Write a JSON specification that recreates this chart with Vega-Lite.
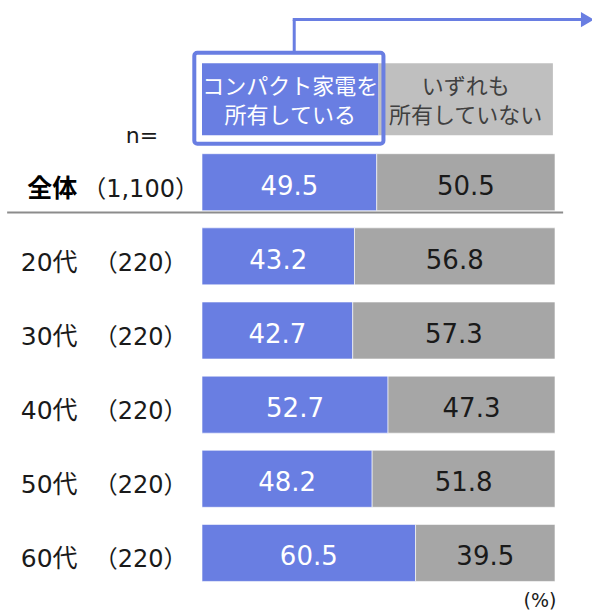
{
  "$schema": "https://vega.github.io/schema/vega-lite/v6.json",
  "width": 353,
  "height": 519,
  "autosize": {"type": "none"},
  "padding": {"left": 202, "top": 71, "right": 37, "bottom": 23},
  "background": "white",
  "config": {"view": {"stroke": null}, "font": "DejaVu Sans, Noto Sans CJK JP", "text": {"font": "DejaVu Sans, Noto Sans CJK JP"}},
  "datasets": {
    "main": [
      {"group": "全体", "n": "（1,100）", "type": "所有している", "value": 49.5},
      {"group": "全体", "n": "（1,100）", "type": "いずれも所有していない", "value": 50.5},
      {"group": "20代", "n": "（220）", "type": "所有している", "value": 43.2},
      {"group": "20代", "n": "（220）", "type": "いずれも所有していない", "value": 56.8},
      {"group": "30代", "n": "（220）", "type": "所有している", "value": 42.7},
      {"group": "30代", "n": "（220）", "type": "いずれも所有していない", "value": 57.3},
      {"group": "40代", "n": "（220）", "type": "所有している", "value": 52.7},
      {"group": "40代", "n": "（220）", "type": "いずれも所有していない", "value": 47.3},
      {"group": "50代", "n": "（220）", "type": "所有している", "value": 48.2},
      {"group": "50代", "n": "（220）", "type": "いずれも所有していない", "value": 51.8},
      {"group": "60代", "n": "（220）", "type": "所有している", "value": 60.5},
      {"group": "60代", "n": "（220）", "type": "いずれも所有していない", "value": 39.5}
    ],
    "header": [
      {"type": "所有している", "label": ["コンパクト家電を", "所有している"]},
      {"type": "いずれも所有していない", "label": ["いずれも", "所有していない"]}
    ],
    "one": [{"note": "annotation"}]
  },
  "layer": [
    {
      "data": {"name": "main"},
      "transform": [
        {"stack": "value", "groupby": ["group"], "sort": [{"field": "type", "order": "descending"}], "as": ["v0", "v1"]}
      ],
      "mark": {"type": "bar", "stroke": "white", "strokeWidth": 0.6},
      "encoding": {
        "y": {"field": "group", "type": "nominal", "axis": null, "scale": {"domain": ["header", "全体", "20代", "30代", "40代", "50代", "60代"], "paddingInner": 0.231, "paddingOuter": 0.1155}},
        "x": {"field": "v0", "type": "quantitative", "axis": null, "scale": {"domain": [0, 100], "nice": false, "zero": false}},
        "x2": {"field": "v1"},
        "color": {"field": "type", "type": "nominal", "legend": null, "scale": {"domain": ["所有している", "いずれも所有していない"], "range": ["#697EE2", "#A6A6A6"]}}
      }
    },
    {
      "data": {"name": "main"},
      "transform": [
        {"stack": "value", "groupby": ["group"], "sort": [{"field": "type", "order": "descending"}], "as": ["v0", "v1"]},
        {"calculate": "(datum.v0 + datum.v1) / 2", "as": "mid"},
        {"filter": "datum.type === '所有している'"}
      ],
      "mark": {"type": "text", "fontSize": 26, "baseline": "alphabetic", "align": "center", "color": "white", "yOffset": 12.3},
      "encoding": {
        "y": {"field": "group", "type": "nominal"},
        "x": {"field": "mid", "type": "quantitative"},
        "text": {"field": "value", "type": "quantitative", "format": ".1f"}
      }
    },
    {
      "data": {"name": "main"},
      "transform": [
        {"stack": "value", "groupby": ["group"], "sort": [{"field": "type", "order": "descending"}], "as": ["v0", "v1"]},
        {"calculate": "(datum.v0 + datum.v1) / 2", "as": "mid"},
        {"filter": "datum.type !== '所有している'"}
      ],
      "mark": {"type": "text", "fontSize": 26, "baseline": "alphabetic", "align": "center", "color": "#1A1A1A", "yOffset": 12.3},
      "encoding": {
        "y": {"field": "group", "type": "nominal"},
        "x": {"field": "mid", "type": "quantitative"},
        "text": {"field": "value", "type": "quantitative", "format": ".1f"}
      }
    },
    {
      "data": {"name": "main"},
      "transform": [{"filter": "datum.type === '所有している' && datum.group !== '全体'"}],
      "mark": {"type": "text", "fontSize": 25, "baseline": "alphabetic", "align": "center", "color": "#1A1A1A", "yOffset": 14.5},
      "encoding": {
        "y": {"field": "group", "type": "nominal"},
        "x": {"datum": -43.3, "type": "quantitative"},
        "text": {"field": "group"}
      }
    },
    {
      "data": {"name": "main"},
      "transform": [{"filter": "datum.type === '所有している' && datum.group === '全体'"}],
      "mark": {"type": "text", "fontSize": 25, "fontWeight": "bold", "baseline": "alphabetic", "align": "center", "color": "#000000", "yOffset": 14.5},
      "encoding": {
        "y": {"field": "group", "type": "nominal"},
        "x": {"datum": -42.4, "type": "quantitative"},
        "text": {"field": "group"}
      }
    },
    {
      "data": {"name": "main"},
      "transform": [{"filter": "datum.type === '所有している'"}],
      "mark": {"type": "text", "fontSize": 24, "baseline": "alphabetic", "align": "center", "color": "#1A1A1A", "yOffset": 14.5},
      "encoding": {
        "y": {"field": "group", "type": "nominal"},
        "x": {"datum": -17.4, "type": "quantitative"},
        "text": {"field": "n"}
      }
    },
    {
      "data": {"name": "one"},
      "mark": {"type": "rule", "color": "#8C8C8C", "strokeWidth": 2, "yOffset": 30.3},
      "encoding": {
        "y": {"datum": "全体", "type": "nominal"},
        "x": {"datum": -55.2, "type": "quantitative"},
        "x2": {"datum": 102.3}
      }
    },
    {
      "data": {"name": "one"},
      "mark": {"type": "bar", "color": "#697EE2", "height": 72, "yOffset": -8.9},
      "encoding": {
        "y": {"datum": "header", "type": "nominal"},
        "x": {"datum": 0, "type": "quantitative"},
        "x2": {"datum": 50}
      }
    },
    {
      "data": {"name": "one"},
      "mark": {"type": "bar", "color": "#BFBFBF", "height": 72, "yOffset": -8.9},
      "encoding": {
        "y": {"datum": "header", "type": "nominal"},
        "x": {"datum": 50, "type": "quantitative"},
        "x2": {"datum": 99.4}
      }
    },
    {
      "data": {"name": "header"},
      "transform": [{"filter": "datum.type === '所有している'"}],
      "mark": {"type": "text", "fontSize": 22, "baseline": "middle", "align": "center", "lineHeight": 29, "color": "white", "yOffset": -21.5},
      "encoding": {
        "y": {"datum": "header", "type": "nominal"},
        "x": {"datum": 25, "type": "quantitative"},
        "text": {"field": "label"}
      }
    },
    {
      "data": {"name": "header"},
      "transform": [{"filter": "datum.type !== '所有している'"}],
      "mark": {"type": "text", "fontSize": 22, "baseline": "middle", "align": "center", "lineHeight": 29, "color": "#404040", "yOffset": -21.5},
      "encoding": {
        "y": {"datum": "header", "type": "nominal"},
        "x": {"datum": 74.7, "type": "quantitative"},
        "text": {"field": "label"}
      }
    },
    {
      "data": {"name": "one"},
      "mark": {"type": "text", "fontSize": 22, "baseline": "middle", "align": "center", "color": "#1A1A1A", "yOffset": 28, "text": "n="},
      "encoding": {
        "y": {"datum": "header", "type": "nominal"},
        "x": {"datum": -17, "type": "quantitative"}
      }
    },
    {
      "data": {"name": "one"},
      "mark": {"type": "bar", "fill": "white", "fillOpacity": 0, "stroke": "#697EE2", "strokeWidth": 4, "cornerRadius": 3, "height": 91, "yOffset": -9.8},
      "encoding": {
        "y": {"datum": "header", "type": "nominal"},
        "x": {"datum": -2.18, "type": "quantitative"},
        "x2": {"datum": 51.4}
      }
    },
    {
      "data": {"name": "one"},
      "mark": {"type": "bar", "color": "#697EE2", "height": 33, "yOffset": -71.8},
      "encoding": {
        "y": {"datum": "header", "type": "nominal"},
        "x": {"datum": 25.7, "type": "quantitative"},
        "x2": {"datum": 26.55}
      }
    },
    {
      "data": {"name": "one"},
      "mark": {"type": "rule", "color": "#697EE2", "strokeWidth": 3, "yOffset": -88.5},
      "encoding": {
        "y": {"datum": "header", "type": "nominal"},
        "x": {"datum": 25.7, "type": "quantitative"},
        "x2": {"datum": 107.5}
      }
    },
    {
      "data": {"name": "one"},
      "mark": {"type": "point", "shape": "triangle-right", "filled": true, "color": "#697EE2", "size": 230, "opacity": 1, "yOffset": -88.5},
      "encoding": {
        "y": {"datum": "header", "type": "nominal"},
        "x": {"datum": 109.2, "type": "quantitative"}
      }
    },
    {
      "data": {"name": "one"},
      "mark": {"type": "text", "fontSize": 19, "baseline": "middle", "align": "center", "color": "#1A1A1A", "yOffset": 48, "text": "(%)"},
      "encoding": {
        "y": {"datum": "60代", "type": "nominal"},
        "x": {"datum": 95.75, "type": "quantitative"}
      }
    }
  ]
}
